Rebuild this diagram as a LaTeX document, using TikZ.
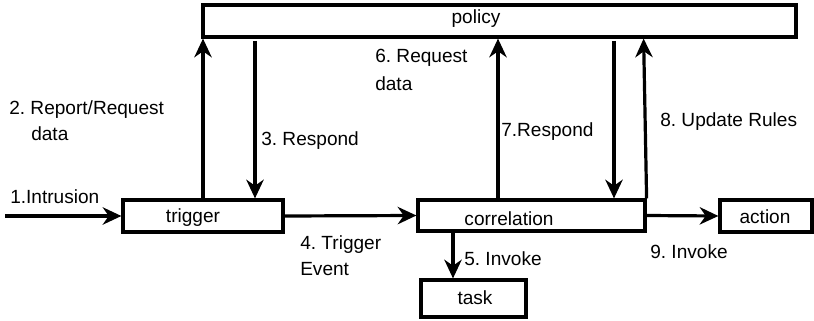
\documentclass[tikz,border=0pt]{standalone}
\usepackage{fontspec}
\setmainfont{Liberation Sans}
\usetikzlibrary{arrows.meta}
\newcommand\pxu{0.75pt}
\begin{document}
\begin{tikzpicture}[x=0.75pt,y=-0.75pt,
  box/.style={draw,line width=2.4pt,rectangle,inner sep=0pt},
  lbl/.style={anchor=base west,inner sep=0pt,font=\fontsize{14.3}{17}\selectfont},
  btxt/.style={anchor=base,inner sep=0pt,font=\fontsize{14.3}{17}\selectfont},
  arr/.style={line width=2.4pt,-{Stealth[length=14pt,width=13pt,inset=4.5pt]}}]
\useasboundingbox (0,0) rectangle (814,321);

% boxes
\node[box,minimum width=593*\pxu,minimum height=32*\pxu] (policy) at (499.5,21) {};
\node[box,minimum width=160*\pxu,minimum height=32*\pxu] (trigger) at (203,216) {};
\node[box,minimum width=227*\pxu,minimum height=31*\pxu] (correlation) at (531.5,215.5) {};
\node[box,minimum width=92*\pxu,minimum height=32*\pxu] (action) at (766,216) {};
\node[box,minimum width=105*\pxu,minimum height=37*\pxu] (task) at (473.5,298.5) {};

% box captions
\node[btxt] (tpolicy) at (476,24) {policy};
\node[btxt] (ttrigger) at (193,222) {trigger};
\node[btxt] (tcorr) at (509,225) {correlation};
\node[btxt] (taction) at (765,223) {action};
\node[btxt] (ttask) at (475,304) {task};

% helper points
\coordinate (src) at (5,216);
\coordinate (p3) at (255,41);
\coordinate (p7) at (498,200);
\coordinate (pd) at (614,41);
\coordinate (p5) at (453,231);

% connectors
\draw[arr] (src) -- (trigger.west);
\draw[arr] (trigger.north) -- (trigger.north |- policy.south);
\draw[arr] (p3) -- (p3 |- trigger.north);
\draw[arr] (trigger.east) -- (correlation.west);
\draw[arr] (p5 |- correlation.south) -- (p5 |- task.north);
\draw[arr] (p7) -- (p7 |- policy.south);
\draw[arr] (pd) -- (pd |- correlation.north);
\draw[arr] (correlation.north east) -- ([xshift=-3*\pxu]correlation.north east |- policy.south);
\draw[arr] (correlation.east) -- (action.west);

% connector labels
\node[lbl] (l1) at (10,203) {1.Intrusion};
\node[lbl] (l2a) at (9,114) {2.\kern0.28em Report/Request};
\node[lbl] (l2b) at (31,141) {data};
\node[lbl] (l3) at (261,145) {3.\kern0.28em Respond};
\node[lbl] (l4a) at (300,249) {4.\kern0.28em Trigger};
\node[lbl] (l4b) at (300,275) {Event};
\node[lbl] (l5) at (464,265) {5.\kern0.28em Invoke};
\node[lbl] (l6a) at (375,63) {6.\kern0.28em Request};
\node[lbl] (l6b) at (375,91) {data};
\node[lbl] (l7) at (501,137) {7.Respond};
\node[lbl] (l8) at (660,127) {8.\kern0.28em Update\kern0.28em Rules};
\node[lbl] (l9) at (650,258) {9.\kern0.28em Invoke};
\end{tikzpicture}
\end{document}
